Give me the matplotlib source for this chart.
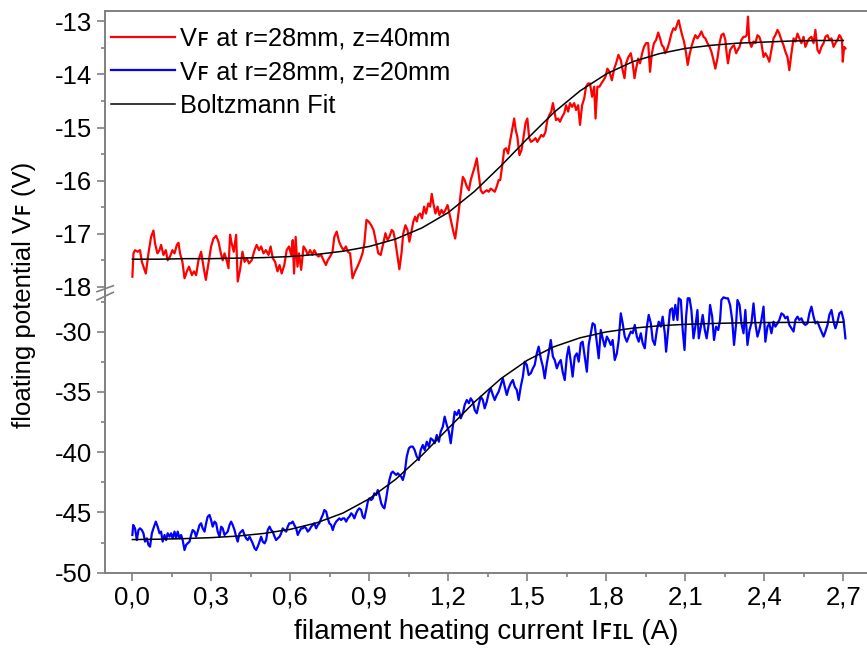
import matplotlib
matplotlib.use("Agg")
import matplotlib.pyplot as plt
from matplotlib.lines import Line2D
from matplotlib.ticker import MultipleLocator

plt.rcParams['font.family'] = ['Liberation Sans', 'DejaVu Sans']
plt.rcParams['axes.unicode_minus'] = False

# ── Data ────────────────────────────────────────────────
# V_F at r=28mm, z=40mm  (upper panel)
red_x = [0.000, 0.004, 0.010, 0.020, 0.029, 0.036, 0.042, 0.051, 0.061, 0.071,
         0.080, 0.086, 0.095, 0.103, 0.109, 0.118, 0.127, 0.134, 0.143, 0.152,
         0.160, 0.169, 0.175, 0.181, 0.190, 0.198, 0.207, 0.215, 0.226, 0.234,
         0.242, 0.251, 0.261, 0.270, 0.279, 0.289, 0.299, 0.308, 0.318, 0.327,
         0.336, 0.343, 0.350, 0.358, 0.365, 0.371, 0.377, 0.385, 0.394, 0.400,
         0.409, 0.418, 0.426, 0.434, 0.443, 0.453, 0.464, 0.472, 0.481, 0.489,
         0.498, 0.507, 0.517, 0.525, 0.533, 0.542, 0.551, 0.559, 0.567, 0.577,
         0.586, 0.595, 0.603, 0.609, 0.614, 0.620, 0.627, 0.633, 0.641, 0.650,
         0.659, 0.666, 0.675, 0.684, 0.691, 0.700, 0.707, 0.717, 0.726, 0.735,
         0.742, 0.751, 0.760, 0.767, 0.776, 0.785, 0.793, 0.802, 0.811, 0.818,
         0.827, 0.836, 0.846, 0.855, 0.865, 0.874, 0.881, 0.889, 0.897, 0.907,
         0.916, 0.926, 0.934, 0.943, 0.953, 0.961, 0.969, 0.976, 0.985, 0.991,
         0.998, 1.007, 1.014, 1.022, 1.029, 1.037, 1.045, 1.052, 1.061, 1.067,
         1.074, 1.080, 1.086, 1.093, 1.100, 1.108, 1.115, 1.124, 1.131, 1.137,
         1.143, 1.151, 1.159, 1.166, 1.174, 1.181, 1.189, 1.197, 1.204, 1.212,
         1.219, 1.226, 1.232, 1.240, 1.247, 1.255, 1.262, 1.270, 1.278, 1.285,
         1.293, 1.300, 1.308, 1.314, 1.323, 1.331, 1.338, 1.346, 1.353, 1.361,
         1.369, 1.376, 1.384, 1.391, 1.397, 1.404, 1.412, 1.419, 1.427, 1.435,
         1.442, 1.450, 1.456, 1.462, 1.470, 1.478, 1.485, 1.493, 1.500, 1.507,
         1.514, 1.523, 1.531, 1.538, 1.546, 1.553, 1.561, 1.569, 1.576, 1.584,
         1.591, 1.597, 1.602, 1.609, 1.617, 1.624, 1.632, 1.640, 1.647, 1.655,
         1.662, 1.670, 1.678, 1.685, 1.693, 1.700, 1.708, 1.716, 1.723, 1.731,
         1.738, 1.746, 1.754, 1.759, 1.766, 1.774, 1.781, 1.789, 1.797, 1.804,
         1.812, 1.821, 1.830, 1.837, 1.846, 1.855, 1.862, 1.869, 1.875, 1.884,
         1.893, 1.900, 1.907, 1.913, 1.921, 1.928, 1.936, 1.943, 1.951, 1.959,
         1.966, 1.973, 1.981, 1.989, 1.997, 2.004, 2.011, 2.017, 2.024, 2.032,
         2.040, 2.047, 2.055, 2.062, 2.070, 2.075, 2.080, 2.088, 2.095, 2.103,
         2.109, 2.116, 2.123, 2.131, 2.138, 2.146, 2.154, 2.161, 2.169, 2.176,
         2.184, 2.192, 2.199, 2.207, 2.214, 2.222, 2.230, 2.237, 2.245, 2.252,
         2.257, 2.262, 2.270, 2.278, 2.285, 2.293, 2.299, 2.306, 2.313, 2.321,
         2.328, 2.333, 2.338, 2.343, 2.351, 2.359, 2.366, 2.374, 2.381, 2.389,
         2.397, 2.404, 2.412, 2.419, 2.427, 2.435, 2.442, 2.450, 2.457, 2.465,
         2.473, 2.480, 2.488, 2.495, 2.503, 2.511, 2.518, 2.526, 2.533, 2.541,
         2.549, 2.556, 2.564, 2.571, 2.579, 2.587, 2.594, 2.602, 2.609, 2.617,
         2.625, 2.632, 2.640, 2.647, 2.655, 2.663, 2.670, 2.678, 2.685, 2.690,
         2.695, 2.698, 2.703, 2.708]
red_y = [-17.81, -17.37, -17.31, -17.34, -17.31, -17.53, -17.62, -17.75, -17.37, -17.06,
         -16.94, -17.18, -17.37, -17.31, -17.21, -17.40, -17.31, -17.50, -17.43, -17.31,
         -17.37, -17.21, -17.17, -17.37, -17.53, -17.84, -17.71, -17.62, -17.78, -17.71,
         -17.78, -17.50, -17.34, -17.62, -17.87, -17.56, -17.24, -17.09, -17.04, -17.15,
         -17.37, -17.50, -17.37, -17.50, -17.65, -17.02, -17.18, -17.34, -17.02, -17.90,
         -17.68, -17.34, -17.53, -17.46, -17.56, -17.50, -17.31, -17.21, -17.31, -17.24,
         -17.37, -17.31, -17.40, -17.24, -17.46, -17.53, -17.71, -17.59, -17.75, -17.59,
         -17.31, -17.24, -17.40, -17.12, -17.75, -17.06, -17.62, -17.37, -17.68, -17.24,
         -17.31, -17.40, -17.31, -17.40, -17.31, -17.40, -17.43, -17.40, -17.50, -17.59,
         -17.50, -17.43, -17.34, -17.06, -16.96, -17.15, -17.24, -17.31, -17.24, -17.34,
         -17.37, -17.84, -17.71, -17.62, -17.50, -17.37, -17.18, -16.74, -16.77, -16.84,
         -16.93, -17.18, -17.37, -17.40, -17.18, -16.99, -17.12, -17.06, -16.93, -16.96,
         -17.12, -17.43, -17.67, -17.37, -16.99, -16.84, -16.93, -17.15, -16.93, -16.77,
         -16.68, -16.77, -16.65, -16.62, -16.71, -16.49, -16.62, -16.43, -16.49, -16.25,
         -16.43, -16.62, -16.49, -16.65, -16.55, -16.62, -16.55, -16.46, -16.62, -16.81,
         -16.96, -17.09, -16.87, -16.55, -16.24, -15.93, -15.99, -16.11, -16.18, -15.99,
         -15.86, -15.74, -15.58, -15.83, -16.18, -16.24, -16.21, -16.18, -16.21, -16.15,
         -16.18, -16.21, -16.11, -15.99, -15.99, -15.74, -15.42, -15.39, -15.49, -15.24,
         -15.05, -14.83, -15.05, -15.17, -15.52, -15.42, -15.20, -14.92, -14.83, -15.20,
         -15.27, -15.24, -15.20, -15.27, -15.20, -15.14, -15.17, -15.08, -14.86, -14.76,
         -14.70, -14.54, -14.67, -14.86, -14.83, -14.89, -14.80, -14.73, -14.58, -14.70,
         -14.54, -14.61, -14.54, -14.67, -14.58, -14.95, -14.58, -14.45, -14.23, -14.17,
         -14.17, -14.42, -14.23, -14.83, -14.23, -14.23, -14.17, -14.11, -14.04, -13.89,
         -13.95, -14.11, -13.89, -13.79, -13.63, -13.73, -13.92, -14.07, -13.79, -13.67,
         -13.60, -13.79, -14.07, -13.89, -13.70, -13.79, -13.60, -13.48, -13.41, -13.41,
         -13.95, -13.60, -13.41, -13.35, -13.21, -13.32, -13.45, -13.48, -13.60, -13.51,
         -13.38, -13.23, -13.13, -13.16, -13.04, -12.98, -13.10, -13.26, -13.38, -13.60,
         -13.82, -13.63, -13.48, -13.35, -13.26, -13.32, -13.26, -13.19, -13.29, -13.32,
         -13.41, -13.48, -13.57, -13.73, -13.89, -13.70, -13.41, -13.26, -13.23, -13.35,
         -13.60, -13.79, -13.54, -13.48, -13.45, -13.60, -13.54, -13.48, -13.35, -13.29,
         -13.29, -13.26, -12.91, -13.38, -13.48, -13.38, -13.41, -13.26, -13.29, -13.41,
         -13.67, -13.60, -13.67, -13.76, -13.54, -13.32, -13.26, -13.16, -13.23, -13.35,
         -13.45, -13.57, -13.67, -13.92, -13.60, -13.32, -13.38, -13.23, -13.32, -13.41,
         -13.29, -13.48, -13.38, -13.32, -13.29, -13.41, -13.16, -13.54, -13.60, -13.48,
         -13.41, -13.29, -13.26, -13.35, -13.32, -13.48, -13.41, -13.35, -13.26, -13.29,
         -13.35, -13.76, -13.48, -13.51]

# V_F at r=28mm, z=20mm  (lower panel)
blue_x = [0.000, 0.003, 0.010, 0.017, 0.023, 0.029, 0.036, 0.042, 0.048, 0.055,
          0.061, 0.067, 0.074, 0.080, 0.089, 0.096, 0.103, 0.109, 0.115, 0.122,
          0.128, 0.134, 0.141, 0.147, 0.153, 0.160, 0.166, 0.172, 0.179, 0.185,
          0.191, 0.198, 0.204, 0.210, 0.217, 0.223, 0.229, 0.236, 0.242, 0.248,
          0.255, 0.261, 0.267, 0.274, 0.280, 0.286, 0.293, 0.299, 0.305, 0.312,
          0.318, 0.324, 0.331, 0.337, 0.343, 0.350, 0.356, 0.362, 0.369, 0.375,
          0.381, 0.388, 0.394, 0.400, 0.407, 0.413, 0.419, 0.426, 0.432, 0.438,
          0.445, 0.451, 0.457, 0.464, 0.470, 0.476, 0.483, 0.489, 0.495, 0.502,
          0.508, 0.514, 0.521, 0.527, 0.533, 0.540, 0.546, 0.552, 0.559, 0.565,
          0.571, 0.577, 0.584, 0.590, 0.596, 0.603, 0.609, 0.615, 0.622, 0.628,
          0.634, 0.641, 0.647, 0.653, 0.660, 0.666, 0.672, 0.679, 0.685, 0.691,
          0.698, 0.704, 0.710, 0.717, 0.723, 0.729, 0.736, 0.742, 0.748, 0.755,
          0.761, 0.767, 0.774, 0.780, 0.786, 0.793, 0.799, 0.805, 0.812, 0.818,
          0.824, 0.831, 0.837, 0.843, 0.850, 0.856, 0.862, 0.869, 0.875, 0.881,
          0.888, 0.894, 0.900, 0.907, 0.913, 0.919, 0.926, 0.932, 0.938, 0.945,
          0.951, 0.957, 0.964, 0.970, 0.976, 0.983, 0.989, 0.995, 1.002, 1.008,
          1.014, 1.021, 1.027, 1.034, 1.042, 1.050, 1.057, 1.065, 1.072, 1.080,
          1.088, 1.095, 1.103, 1.110, 1.118, 1.126, 1.133, 1.141, 1.148, 1.156,
          1.164, 1.171, 1.179, 1.186, 1.194, 1.202, 1.209, 1.217, 1.224, 1.232,
          1.240, 1.247, 1.255, 1.262, 1.270, 1.278, 1.285, 1.293, 1.300, 1.308,
          1.315, 1.323, 1.331, 1.338, 1.346, 1.353, 1.361, 1.369, 1.376, 1.384,
          1.391, 1.399, 1.407, 1.414, 1.422, 1.429, 1.437, 1.445, 1.452, 1.460,
          1.467, 1.475, 1.483, 1.490, 1.498, 1.505, 1.513, 1.521, 1.528, 1.536,
          1.543, 1.551, 1.559, 1.566, 1.574, 1.581, 1.589, 1.597, 1.604, 1.612,
          1.619, 1.627, 1.634, 1.642, 1.650, 1.657, 1.665, 1.672, 1.680, 1.688,
          1.695, 1.703, 1.710, 1.718, 1.726, 1.733, 1.741, 1.748, 1.756, 1.764,
          1.771, 1.779, 1.786, 1.794, 1.802, 1.809, 1.817, 1.824, 1.832, 1.840,
          1.847, 1.855, 1.862, 1.870, 1.878, 1.885, 1.893, 1.900, 1.908, 1.916,
          1.923, 1.931, 1.938, 1.946, 1.954, 1.961, 1.969, 1.976, 1.984, 1.992,
          1.999, 2.007, 2.014, 2.022, 2.027, 2.035, 2.042, 2.050, 2.055, 2.062,
          2.070, 2.075, 2.083, 2.090, 2.097, 2.103, 2.109, 2.116, 2.123, 2.131,
          2.138, 2.146, 2.151, 2.159, 2.166, 2.174, 2.181, 2.189, 2.194, 2.202,
          2.209, 2.217, 2.225, 2.232, 2.237, 2.245, 2.255, 2.262, 2.270, 2.278,
          2.285, 2.293, 2.298, 2.306, 2.313, 2.321, 2.328, 2.336, 2.344, 2.351,
          2.359, 2.366, 2.374, 2.381, 2.389, 2.397, 2.404, 2.412, 2.419, 2.427,
          2.435, 2.442, 2.450, 2.457, 2.465, 2.473, 2.480, 2.488, 2.495, 2.503,
          2.511, 2.518, 2.526, 2.533, 2.541, 2.549, 2.556, 2.564, 2.571, 2.579,
          2.587, 2.594, 2.602, 2.609, 2.617, 2.625, 2.632, 2.640, 2.647, 2.655,
          2.663, 2.670, 2.678, 2.685, 2.693, 2.701, 2.708]
blue_y = [-46.87, -46.04, -46.32, -47.29, -46.46, -46.32, -46.46, -46.73, -47.42, -47.15,
          -47.70, -47.84, -46.73, -46.32, -45.76, -46.18, -46.73, -46.59, -47.42, -46.87,
          -47.29, -46.73, -47.01, -46.73, -47.15, -46.59, -47.15, -46.59, -47.15, -46.87,
          -47.29, -48.12, -47.70, -47.56, -47.42, -46.87, -46.46, -46.59, -47.01, -46.59,
          -46.04, -45.90, -46.32, -46.59, -45.90, -45.35, -45.21, -45.63, -46.18, -45.76,
          -45.90, -46.59, -47.01, -46.18, -46.32, -46.87, -46.73, -46.59, -46.04, -45.76,
          -46.04, -46.46, -47.01, -47.42, -46.73, -46.59, -46.46, -46.87, -47.15, -47.29,
          -47.01, -47.29, -47.56, -47.98, -48.12, -47.84, -47.42, -47.01, -47.42, -47.56,
          -47.29, -46.46, -46.18, -46.46, -46.59, -47.01, -47.29, -47.15, -47.01, -46.73,
          -46.32, -46.46, -46.59, -46.18, -45.90, -45.90, -45.76, -46.04, -46.32, -46.87,
          -46.59, -46.32, -46.32, -46.18, -46.32, -46.59, -46.46, -46.18, -46.04, -45.90,
          -46.32, -46.04, -45.90, -45.49, -45.21, -44.80, -44.93, -45.49, -45.90, -46.04,
          -46.46, -46.04, -45.76, -45.63, -45.49, -45.63, -45.49, -45.49, -45.76, -45.49,
          -45.35, -45.07, -45.21, -45.49, -45.07, -44.80, -44.66, -44.80, -45.35, -45.49,
          -44.80, -44.11, -43.83, -43.97, -43.83, -43.41, -43.55, -43.14, -43.55, -44.24,
          -44.52, -44.66, -43.83, -43.00, -42.31, -41.75, -41.61, -41.75, -41.89, -41.75,
          -41.89, -42.03, -42.31, -41.75, -40.37, -39.68, -39.54, -39.54, -39.82, -40.37,
          -40.65, -39.82, -39.40, -39.82, -39.13, -39.54, -38.85, -38.99, -39.26, -38.57,
          -39.13, -38.30, -37.88, -37.05, -37.74, -38.30, -39.26, -37.88, -36.64, -36.91,
          -36.50, -37.19, -36.77, -36.08, -35.67, -35.94, -35.53, -35.81, -36.50, -36.77,
          -36.08, -35.39, -35.67, -36.36, -35.81, -35.11, -34.70, -35.25, -35.67, -35.25,
          -34.98, -34.42, -33.87, -34.56, -35.25, -34.70, -34.28, -34.01, -34.56, -34.84,
          -35.67, -34.56, -33.73, -32.49, -32.76, -33.59, -33.45, -33.04, -32.76, -31.80,
          -31.24, -32.21, -32.90, -33.87, -32.63, -31.80, -30.69, -32.07, -32.35, -33.04,
          -32.63, -32.35, -33.32, -34.01, -32.07, -31.24, -32.49, -33.73, -32.07, -31.80,
          -32.49, -30.96, -30.83, -32.07, -33.32, -31.10, -30.13, -29.30, -29.44, -30.96,
          -32.21, -29.86, -30.55, -31.24, -30.41, -30.69, -31.10, -30.69, -32.35, -31.80,
          -30.69, -28.48, -29.30, -30.41, -30.83, -30.41, -29.99, -30.13, -29.44, -30.41,
          -30.83, -30.13, -30.96, -31.38, -29.58, -28.61, -29.31, -30.69, -31.10, -29.86,
          -29.17, -29.58, -28.75, -30.13, -31.66, -29.86, -28.20, -28.06, -29.03, -27.78,
          -29.03, -27.23, -27.37, -29.86, -31.52, -28.75, -27.23, -27.23, -28.20, -30.55,
          -29.58, -28.20, -30.55, -29.58, -28.61, -29.86, -30.55, -29.31, -27.78, -28.75,
          -30.69, -29.58, -29.86, -29.03, -27.37, -27.15, -27.23, -27.23, -27.78, -29.03,
          -31.10, -29.31, -27.37, -27.78, -29.31, -30.13, -28.20, -31.10, -29.86, -29.31,
          -27.65, -29.31, -30.41, -29.86, -29.03, -27.92, -30.83, -29.58, -29.31, -30.13,
          -29.17, -29.58, -29.31, -29.03, -28.48, -28.61, -28.89, -28.75, -29.44, -29.72,
          -29.99, -29.03, -28.75, -29.03, -28.89, -29.31, -29.44, -29.31, -28.48, -27.92,
          -28.75, -29.31, -29.17, -29.58, -29.99, -30.41, -29.99, -29.44, -28.61, -28.20,
          -29.17, -29.72, -29.17, -28.48, -28.34, -29.03, -30.55]

# Boltzmann fit curves
fit_x = [0.0, 0.1, 0.2, 0.3, 0.4, 0.5, 0.6, 0.7, 0.8, 0.9,
         1.0, 1.1, 1.2, 1.3, 1.4, 1.5, 1.6, 1.7, 1.8, 1.9,
         2.0, 2.1, 2.2, 2.3, 2.4, 2.5, 2.6, 2.7]
fit_top = [-17.48, -17.48, -17.47, -17.47, -17.46, -17.45, -17.43, -17.39, -17.33, -17.24,
           -17.10, -16.89, -16.60, -16.20, -15.72, -15.21, -14.72, -14.31, -13.99, -13.76,
           -13.61, -13.51, -13.45, -13.41, -13.39, -13.37, -13.36, -13.36]
fit_bottom = [-47.25, -47.22, -47.17, -47.09, -46.96, -46.74, -46.40, -45.86, -45.05, -43.86,
              -42.25, -40.25, -38.02, -35.82, -33.89, -32.37, -31.26, -30.51, -30.02, -29.71,
              -29.51, -29.39, -29.32, -29.27, -29.24, -29.23, -29.22, -29.21]

x_ticks = [0.0, 0.3, 0.6, 0.9, 1.2, 1.5, 1.8, 2.1, 2.4, 2.7]
x_tick_labels = ['0,0', '0,3', '0,6', '0,9', '1,2', '1,5', '1,8', '2,1', '2,4', '2,7']
top_ticks = [-18, -17, -16, -15, -14, -13]
bottom_ticks = [-50, -45, -40, -35, -30]

legend_labels = ['V\ua730 at r=28mm, z=40mm', 'V\ua730 at r=28mm, z=20mm', 'Boltzmann Fit']

# ── Figure ──────────────────────────────────────────────
W, H = 867, 648
fig = plt.figure(figsize=(W / 100, H / 100), dpi=100)

left = 105 / W
width = (W - 105) / W
split = 293
ax_top = fig.add_axes([left, 1 - split / H, width, (split - 11.3) / H])
ax_bot = fig.add_axes([left, 1 - 572.7 / H, width, (572.7 - split) / H])

spine_col = '#808080'
tick_fs = 18.5

for ax in (ax_top, ax_bot):
    ax.set_xlim(-0.104, 2.79)
    ax.spines['right'].set_visible(False)
    for s in ax.spines.values():
        s.set_color(spine_col)
        s.set_linewidth(1.4)
    ax.tick_params(axis='both', which='major', direction='out', length=6,
                   width=1.2, color=spine_col, labelsize=tick_fs, pad=3)
    ax.tick_params(axis='both', which='minor', direction='out', length=3,
                   width=1.2, color=spine_col)
    ax.patch.set_alpha(0)

ax_top.spines['bottom'].set_visible(False)
ax_top.tick_params(axis='x', which='both', bottom=False, labelbottom=False)
ax_top.set_ylim(-18.117, -12.81)
ax_top.set_yticks(top_ticks)
ax_top.yaxis.set_minor_locator(MultipleLocator(0.5))

ax_bot.spines['top'].set_visible(False)
ax_bot.set_ylim(-50, -26.79)
ax_bot.set_yticks(bottom_ticks)
ax_bot.yaxis.set_minor_locator(MultipleLocator(2.5))
ax_bot.set_xticks(x_ticks)
ax_bot.set_xticklabels(x_tick_labels)
ax_bot.xaxis.set_minor_locator(MultipleLocator(0.15))

# ── Curves ──────────────────────────────────────────────
l_red, = ax_top.plot(red_x, red_y, color='#ff0000', lw=1.6)
ax_top.plot(fit_x, fit_top, color='black', lw=1.1)
l_blue, = ax_bot.plot(blue_x, blue_y, color='#0000ff', lw=1.6)
l_fit, = ax_bot.plot(fit_x, fit_bottom, color='black', lw=1.1)

ax_top.legend([l_red, l_blue, l_fit], legend_labels, loc='upper left',
              bbox_to_anchor=(0.0, 0.968), frameon=False, fontsize=18.3,
              handlelength=2.5, handletextpad=0.2, labelspacing=0.38,
              borderpad=0.1, borderaxespad=0.15)

# ── Axis labels ─────────────────────────────────────────
ax_bot.set_xlabel('filament heating current I\ua730\u026a\u029f (A)',
                  fontsize=20, labelpad=7)
fig.text(24 / W, 1 - 295 / H, 'floating potential V\ua730 (V)', rotation=90,
         fontsize=18.5, ha='center', va='center')

# ── Axis break marks ────────────────────────────────────
for y0, y1 in [(291.7, 285.7), (300.0, 292.3)]:
    fig.add_artist(Line2D([97 / W, 113.3 / W], [1 - y0 / H, 1 - y1 / H],
                          color=spine_col, lw=1.2))

fig.savefig('out.png', dpi=100)
